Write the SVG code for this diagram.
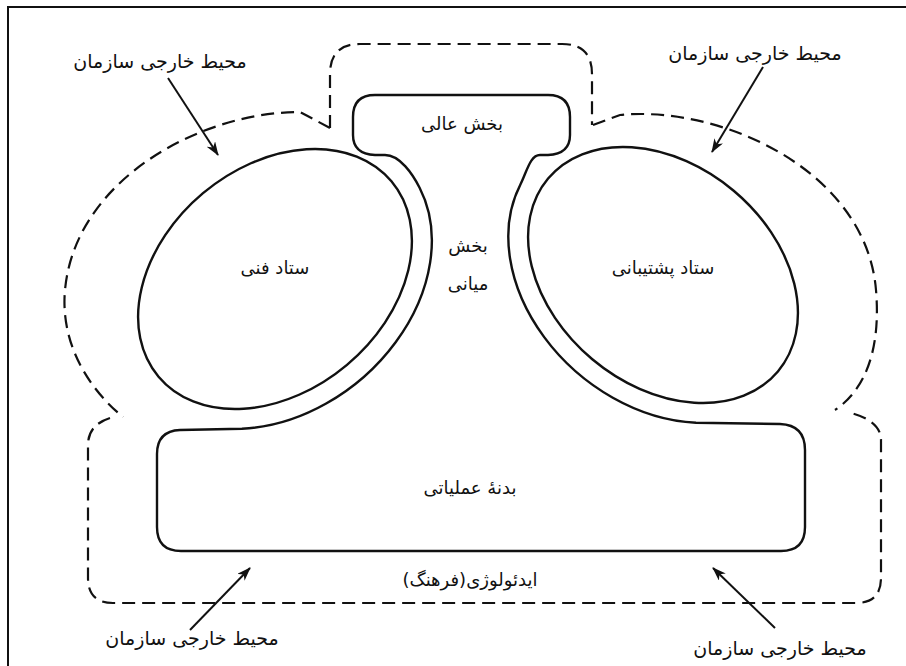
<svg xmlns="http://www.w3.org/2000/svg" width="906" height="666" viewBox="0 0 906 666">
<defs>
<style>
.frame{fill:none;stroke:#111;stroke-width:2}
.solid{fill:none;stroke:#111;stroke-width:2.4;stroke-linejoin:round}
.dash{fill:none;stroke:#111;stroke-width:2.2;stroke-dasharray:13 7}
.arrow{fill:none;stroke:#111;stroke-width:2}
.t{font-family:"DejaVu Sans",sans-serif;font-size:18px;fill:#111;text-anchor:middle;direction:rtl}
.lbl{font-size:19px}
</style>
<marker id="ah" viewBox="0 0 14 10" refX="13" refY="5" markerWidth="14" markerHeight="10" markerUnits="userSpaceOnUse" orient="auto">
<path d="M0 0 L14 5 L0 10 L4 5 Z" fill="#111"/>
</marker>
</defs>
<rect width="906" height="666" fill="#fff"/>
<path class="frame" d="M 8 666 V 7 H 906"/>

<g id="environment-boundary">
<path class="dash" d="M 330 128 V 74 Q 330 44 360 44 H 562 Q 592 44 592 74 V 125"/>
<path class="dash" d="M 330 128 L 300 112 C 200 112 75 180 65 290 C 60 345 90 390 123 417"/>
<path class="dash" d="M 593 125 L 620 115 C 720 105 866 170 876 290 C 881 350 865 390 835 410"/>
<path class="dash" d="M 110 418 Q 88 425 88 445 V 578 Q 88 603 113 603 H 856 Q 881 603 881 578 V 440 Q 881 420 847 412"/>
</g>

<g id="organization-outline">
<path class="solid" d="M 375 95 H 548 Q 570 95 570 117 V 135 Q 570 154 548 155 H 540 C 530 155 526.7 172.2 520.3 184.7 A 170 130 40 0 0 696 422.7 L 780 424 Q 805 425 805 450 V 527 Q 805 551 781 551 H 181 Q 157 551 157 527 V 454 Q 157 431 180 430 L 241.9 428.7 A 172 132 -40 0 0 419.6 187.7 C 412.8 174.3 400 155 385 155 H 375 Q 353 154 353 135 V 117 Q 353 95 375 95 Z"/>
</g>

<g id="technostructure">
<ellipse class="solid" cx="275" cy="279" rx="152" ry="112" transform="rotate(-40 275 279)"/>
<text class="t" x="275" y="274">ستاد فنی</text>
</g>

<g id="support-staff">
<ellipse class="solid" cx="663" cy="275" rx="150" ry="110" transform="rotate(40 663 275)"/>
<text class="t" x="663" y="274">ستاد پشتیبانی</text>
</g>

<g id="strategic-apex">
<text class="t" x="462" y="130">بخش عالی</text>
</g>

<g id="middle-line">
<text class="t" x="468" y="252">بخش</text>
<text class="t" x="468" y="290">میانی</text>
</g>

<g id="operating-core">
<text class="t" x="470" y="494">بدنهٔ عملیاتی</text>
</g>

<g id="ideology">
<text class="t" x="470" y="586">ایدئولوژی(فرهنگ)</text>
</g>

<g id="labels">
<text class="t lbl" x="160" y="68">محیط خارجی سازمان</text>
<text class="t lbl" x="755" y="60">محیط خارجی سازمان</text>
<text class="t lbl" x="192" y="645">محیط خارجی سازمان</text>
<text class="t lbl" x="780" y="655">محیط خارجی سازمان</text>
</g>

<g id="connectors">
<line class="arrow" x1="168" y1="78" x2="218" y2="155" marker-end="url(#ah)"/>
<line class="arrow" x1="763" y1="67" x2="712" y2="152" marker-end="url(#ah)"/>
<line class="arrow" x1="190" y1="630" x2="250" y2="568" marker-end="url(#ah)"/>
<line class="arrow" x1="775" y1="628" x2="713" y2="568" marker-end="url(#ah)"/>
</g>
</svg>
